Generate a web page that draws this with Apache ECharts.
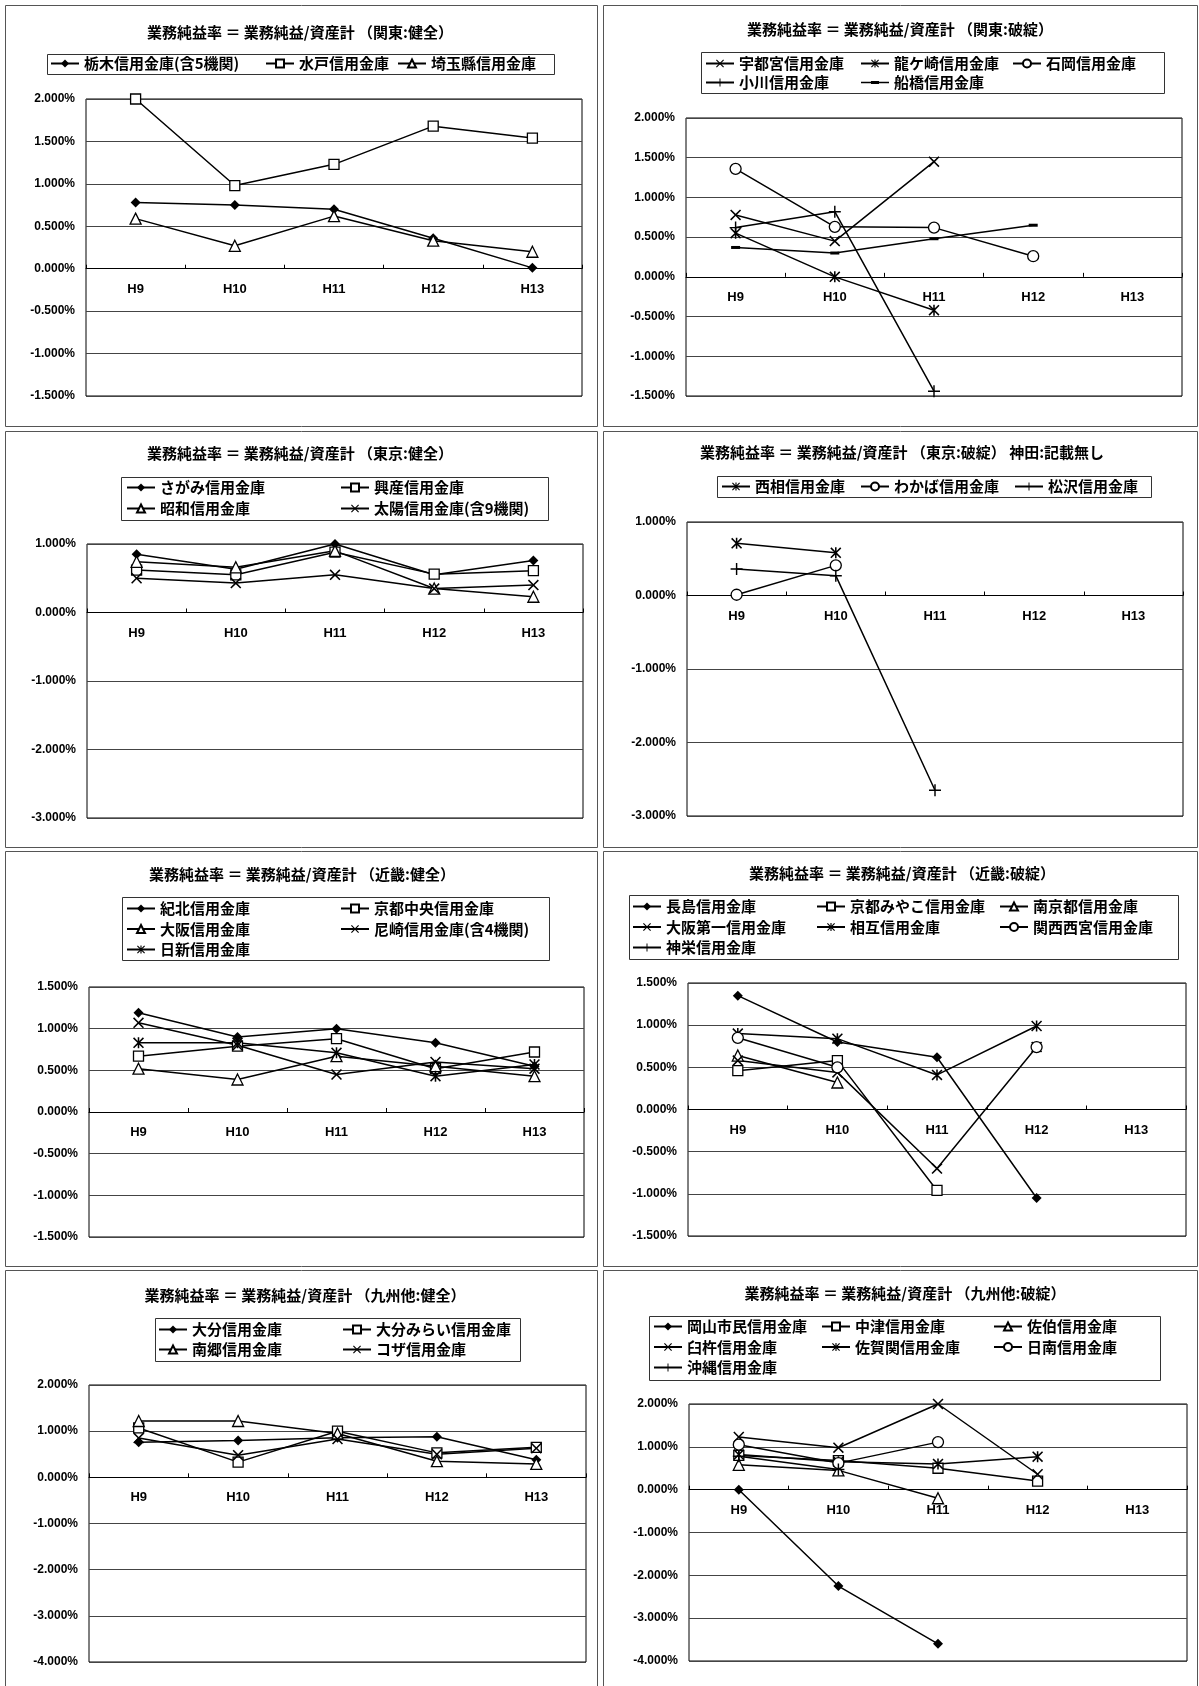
<!DOCTYPE html>
<html><head><meta charset="utf-8">
<script src="https://cdn.jsdelivr.net/npm/echarts@6/dist/echarts.min.js"></script>
<style>html,body{margin:0;padding:0;background:#fff}#c{width:1199px;height:1686px}</style>
</head><body><div id="c"></div>
<script>
// ---------- DATA ----------
const categories = ['H9','H10','H11','H12','H13'];
// 関東:健全
const tochigi   = [0.78, 0.75, 0.70, 0.36, 0.01];
const mito      = [2.00, 0.98, 1.23, 1.68, 1.54];
const saitama   = [0.59, 0.27, 0.62, 0.33, 0.20];
// 関東:破綻
const utsunomiya = [0.78, 0.45, 1.45, null, null];
const ryugasaki  = [0.55, 0.00, -0.42, null, null];
const ishioka    = [1.36, 0.63, 0.62, 0.26, null];
const ogawa      = [0.62, 0.82, -1.44, null, null];
const funabashi  = [0.37, 0.30, 0.48, 0.65, null];
// 東京:健全
const sagami = [0.85, 0.63, 1.00, 0.55, 0.76];
const kosan  = [0.62, 0.55, 0.88, 0.56, 0.61];
const showa  = [0.74, 0.66, 0.90, 0.35, 0.23];
const taiyo  = [0.50, 0.43, 0.55, 0.35, 0.40];
// 東京:破綻
const saiso     = [0.71, 0.58, null, null, null];
const wakaba    = [0.01, 0.41, null, null, null];
const matsuzawa = [0.36, 0.27, -2.65, null, null];
// 近畿:健全
const kihoku    = [1.19, 0.90, 1.00, 0.83, 0.55];
const kyotoChuo = [0.67, 0.79, 0.88, 0.52, 0.72];
const osaka     = [0.52, 0.39, 0.67, 0.55, 0.43];
const amagasaki = [1.07, 0.80, 0.45, 0.60, 0.52];
const nisshin   = [0.83, 0.83, 0.71, 0.43, 0.57];
// 近畿:破綻
const nagashima   = [1.35, 0.80, 0.62, -1.05, null];
const kyotoMiyako = [0.46, 0.58, -0.96, null, null];
const minamiKyoto = [0.64, 0.32, null, null, null];
const osakaDaiichi= [0.58, 0.44, -0.70, 0.74, null];
const sogo        = [0.90, 0.84, 0.41, 0.99, null];
const kansaiNishinomiya = [0.85, 0.50, null, 0.74, null];
const shinei      = [null, null, null, null, null];
// 九州他:健全
const oita      = [0.76, 0.80, 0.86, 0.88, 0.38];
const oitaMirai = [1.07, 0.33, 1.00, 0.53, 0.65];
const nango     = [1.22, 1.22, 0.95, 0.35, 0.29];
const koza      = [0.85, 0.48, 0.83, 0.50, 0.63];
// 九州他:破綻
const okayama  = [0.00, -2.25, -3.60, null, null];
const nakatsu  = [0.80, 0.68, 0.50, 0.20, null];
const saiki    = [0.58, 0.45, -0.20, null, null];
const usuki    = [1.23, 0.98, 2.00, 0.36, null];
const sagaseki = [0.82, 0.65, 0.60, 0.77, null];
const nichinan = [1.05, 0.62, 1.11, null, null];
const okinawa  = [0.78, 0.47, null, null, null];

// ---------- MARKERS ----------
const P_CROSS = 'path://M0,1L1,0L5,4L9,0L10,1L6,5L10,9L9,10L5,6L1,10L0,9L4,5Z';
const P_STAR  = 'path://M0,1L1,0L5,4L9,0L10,1L6,5L10,9L9,10L5,6L1,10L0,9L4,5Z M4.3,0L5.7,0L5.7,10L4.3,10Z';
const P_PLUS  = 'path://M4.4,0L5.6,0L5.6,10L4.4,10Z M0,4.4L10,4.4L10,5.6L0,5.6Z';
const P_DASH  = 'path://M0,0L10,0L10,3L0,3Z';
const DASH_LEGEND = 'path://M0,4.3L28,4.3L28,5.7L0,5.7Z M10,3.5L18,3.5L18,6.5L10,6.5Z';
const MK = {
  diamond: {symbol:'diamond', size:[10,10], fill:'#000', bw:0},
  square:  {symbol:'rect', size:[10,10], fill:'#fff', bw:1.3},
  triangle:{symbol:'triangle', size:[11,11], fill:'#fff', bw:1.3},
  circle:  {symbol:'circle', size:[11,11], fill:'#fff', bw:1.3},
  cross:   {symbol:P_CROSS, size:[11,11], fill:'#000', bw:0},
  star:    {symbol:P_STAR, size:[11,11], fill:'#000', bw:0},
  plus:    {symbol:P_PLUS, size:[12,12], fill:'#000', bw:0},
  dash:    {symbol:P_DASH, size:[9,3], fill:'#000', bw:0}
};

// ---------- PANELS ----------
const panels = [
 {title:'業務純益率 ＝ 業務純益/資産計 （関東:健全）', tx:300, ty:32,
  grid:[86,99,582,396], min:-1.5, max:2.0, interval:0.5,
  series:[['栃木信用金庫(含5機関)',tochigi,'diamond'],['水戸信用金庫',mito,'square'],['埼玉縣信用金庫',saitama,'triangle']],
  box:[47,54,554,74], rows:[64], gap:5,
  cols:[[50,['栃木信用金庫(含5機関)']],[265,['水戸信用金庫']],[397,['埼玉縣信用金庫']]]},
 {title:'業務純益率 ＝ 業務純益/資産計 （関東:破綻）', tx:900, ty:29,
  grid:[686,118,1182,396], min:-1.5, max:2.0, interval:0.5,
  series:[['宇都宮信用金庫',utsunomiya,'cross'],['龍ケ崎信用金庫',ryugasaki,'star'],['石岡信用金庫',ishioka,'circle'],['小川信用金庫',ogawa,'plus'],['船橋信用金庫',funabashi,'dash']],
  box:[701,52,1164,93], rows:[64], gap:4,
  cols:[[705,['宇都宮信用金庫','小川信用金庫']],[860,['龍ケ崎信用金庫','船橋信用金庫']],[1012,['石岡信用金庫']]]},
 {title:'業務純益率 ＝ 業務純益/資産計 （東京:健全）', tx:300, ty:453,
  grid:[87,544,583,818], min:-3, max:1, interval:1,
  series:[['さがみ信用金庫',sagami,'diamond'],['興産信用金庫',kosan,'square'],['昭和信用金庫',showa,'triangle'],['太陽信用金庫(含9機関)',taiyo,'cross']],
  box:[121,477,548,520], rows:[488], gap:6,
  cols:[[126,['さがみ信用金庫','昭和信用金庫']],[340,['興産信用金庫','太陽信用金庫(含9機関)']]]},
 {title:'業務純益率 ＝ 業務純益/資産計 （東京:破綻） 神田:記載無し', tx:902, ty:452,
  grid:[687,522,1183,816], min:-3, max:1, interval:1,
  series:[['西相信用金庫',saiso,'star'],['わかば信用金庫',wakaba,'circle'],['松沢信用金庫',matsuzawa,'plus']],
  box:[717,476,1151,497], rows:[487], gap:6,
  cols:[[721,['西相信用金庫']],[860,['わかば信用金庫']],[1014,['松沢信用金庫']]]},
 {title:'業務純益率 ＝ 業務純益/資産計 （近畿:健全）', tx:302, ty:874,
  grid:[89,987,584,1237], min:-1.5, max:1.5, interval:0.5,
  series:[['紀北信用金庫',kihoku,'diamond'],['京都中央信用金庫',kyotoChuo,'square'],['大阪信用金庫',osaka,'triangle'],['尼崎信用金庫(含4機関)',amagasaki,'cross'],['日新信用金庫',nisshin,'star']],
  box:[122,897,549,960], rows:[909], gap:5.5,
  cols:[[126,['紀北信用金庫','大阪信用金庫','日新信用金庫']],[340,['京都中央信用金庫','尼崎信用金庫(含4機関)']]]},
 {title:'業務純益率 ＝ 業務純益/資産計 （近畿:破綻）', tx:902, ty:873,
  grid:[688,983,1186,1236], min:-1.5, max:1.5, interval:0.5,
  series:[['長島信用金庫',nagashima,'diamond'],['京都みやこ信用金庫',kyotoMiyako,'square'],['南京都信用金庫',minamiKyoto,'triangle'],['大阪第一信用金庫',osakaDaiichi,'cross'],['相互信用金庫',sogo,'star'],['関西西宮信用金庫',kansaiNishinomiya,'circle'],['神栄信用金庫',shinei,'plus']],
  box:[629,895,1178,959], rows:[907], gap:5.5,
  cols:[[632,['長島信用金庫','大阪第一信用金庫','神栄信用金庫']],[816,['京都みやこ信用金庫','相互信用金庫']],[999,['南京都信用金庫','関西西宮信用金庫']]]},
 {title:'業務純益率 ＝ 業務純益/資産計 （九州他:健全）', tx:305, ty:1295,
  grid:[89,1385,586,1662], min:-4, max:2, interval:1,
  series:[['大分信用金庫',oita,'diamond'],['大分みらい信用金庫',oitaMirai,'square'],['南郷信用金庫',nango,'triangle'],['コザ信用金庫',koza,'cross']],
  box:[155,1318,520,1361], rows:[1330], gap:5,
  cols:[[158,['大分信用金庫','南郷信用金庫']],[342,['大分みらい信用金庫','コザ信用金庫']]]},
 {title:'業務純益率 ＝ 業務純益/資産計 （九州他:破綻）', tx:905, ty:1293,
  grid:[689,1404,1187,1661], min:-4, max:2, interval:1,
  series:[['岡山市民信用金庫',okayama,'diamond'],['中津信用金庫',nakatsu,'square'],['佐伯信用金庫',saiki,'triangle'],['臼杵信用金庫',usuki,'cross'],['佐賀関信用金庫',sagaseki,'star'],['日南信用金庫',nichinan,'circle'],['沖縄信用金庫',okinawa,'plus']],
  box:[649,1316,1160,1380], rows:[1327], gap:5.5,
  cols:[[653,['岡山市民信用金庫','臼杵信用金庫','沖縄信用金庫']],[821,['中津信用金庫','佐賀関信用金庫']],[993,['佐伯信用金庫','日南信用金庫']]]}
];
const panelRects = [[5,5,597,426],[603,5,1197,426],[5,431,597,847],[603,431,1197,847],
                    [5,851,597,1266],[603,851,1197,1266],[5,1270,597,1692],[603,1270,1197,1692]];

const CJK = '"Noto Sans CJK JP", sans-serif';
const NUM = '"Liberation Sans", Arial, sans-serif';
const grids=[], xAxes=[], yAxes=[], series=[], legends=[], graphics=[];

panelRects.forEach(r => graphics.push({type:'rect', shape:{x:r[0]+0.5,y:r[1]+0.5,width:r[2]-r[0],height:r[3]-r[1]},
  style:{fill:'none', stroke:'#555', lineWidth:1}, silent:true, z:0}));

panels.forEach((p,i) => {
  const [l,t,r,b] = p.grid;
  const h = b - t;
  // place the category axis on the zero line (offset from the bottom of the plot)
  const zeroOffset = -h * (0 - p.min) / (p.max - p.min);
  grids.push({left:l, top:t, width:r-l, height:h, show:true, borderColor:'#000', borderWidth:1, backgroundColor:'transparent', containLabel:false});
  xAxes.push({type:'category', gridIndex:i, data:categories, boundaryGap:true, position:'bottom', offset:zeroOffset,
    axisLine:{onZero:false, lineStyle:{color:'#000', width:1}},
    axisTick:{show:true, inside:true, length:4, lineStyle:{color:'#000'}},
    axisLabel:{margin:14, fontFamily:NUM, fontWeight:'bold', fontSize:13, color:'#000'},
    splitLine:{show:false}});
  yAxes.push({type:'value', gridIndex:i, min:p.min, max:p.max, interval:p.interval,
    axisLine:{show:false}, axisTick:{show:false},
    axisLabel:{margin:11, fontFamily:NUM, fontWeight:'bold', fontSize:12, color:'#000',
      formatter:v => v.toFixed(3)+'%'},
    splitLine:{show:true, lineStyle:{color:'#444', width:1}}});
  p.series.forEach(s => {
    const m = MK[s[2]];
    series.push({type:'line', name:s[0], xAxisIndex:i, yAxisIndex:i, data:s[1],
      symbol:m.symbol, symbolSize:m.size, showSymbol:true, connectNulls:false,
      lineStyle:{color:'#000', width:1.5},
      itemStyle:{color:m.fill, borderColor:'#000', borderWidth:m.bw},
      emphasis:{disabled:true}, z:3});
  });
  const markerOf = {};
  p.series.forEach(s => { markerOf[s[0]] = s[2]; });
  p.cols.forEach(c => {
    legends.push({orient:'vertical', left:c[0], top:p.rows[0]-8,
      data:c[1].map(n => markerOf[n] === 'dash' ? {name:n, icon:DASH_LEGEND} : n),
      selectedMode:false, itemWidth:28, itemHeight:10, itemGap:p.gap, padding:0,
      textStyle:{fontFamily:CJK, fontWeight:'bold', fontSize:15, color:'#000', padding:[0,0,0,0]}});
  });
  graphics.push({type:'rect', shape:{x:p.box[0]+0.5,y:p.box[1]+0.5,width:p.box[2]-p.box[0],height:p.box[3]-p.box[1]},
    style:{fill:'none', stroke:'#333', lineWidth:1}, silent:true});
  graphics.push({type:'text', x:p.tx, y:p.ty, silent:true,
    style:{text:p.title, font:'bold 15px '+CJK, fill:'#000', align:'center', verticalAlign:'middle'}});
});

const chart = echarts.init(document.getElementById('c'), null, {renderer:'canvas'});
chart.setOption({animation:false, backgroundColor:'#fff',
  grid:grids, xAxis:xAxes, yAxis:yAxes, series:series, legend:legends, graphic:graphics});
</script></body></html>
